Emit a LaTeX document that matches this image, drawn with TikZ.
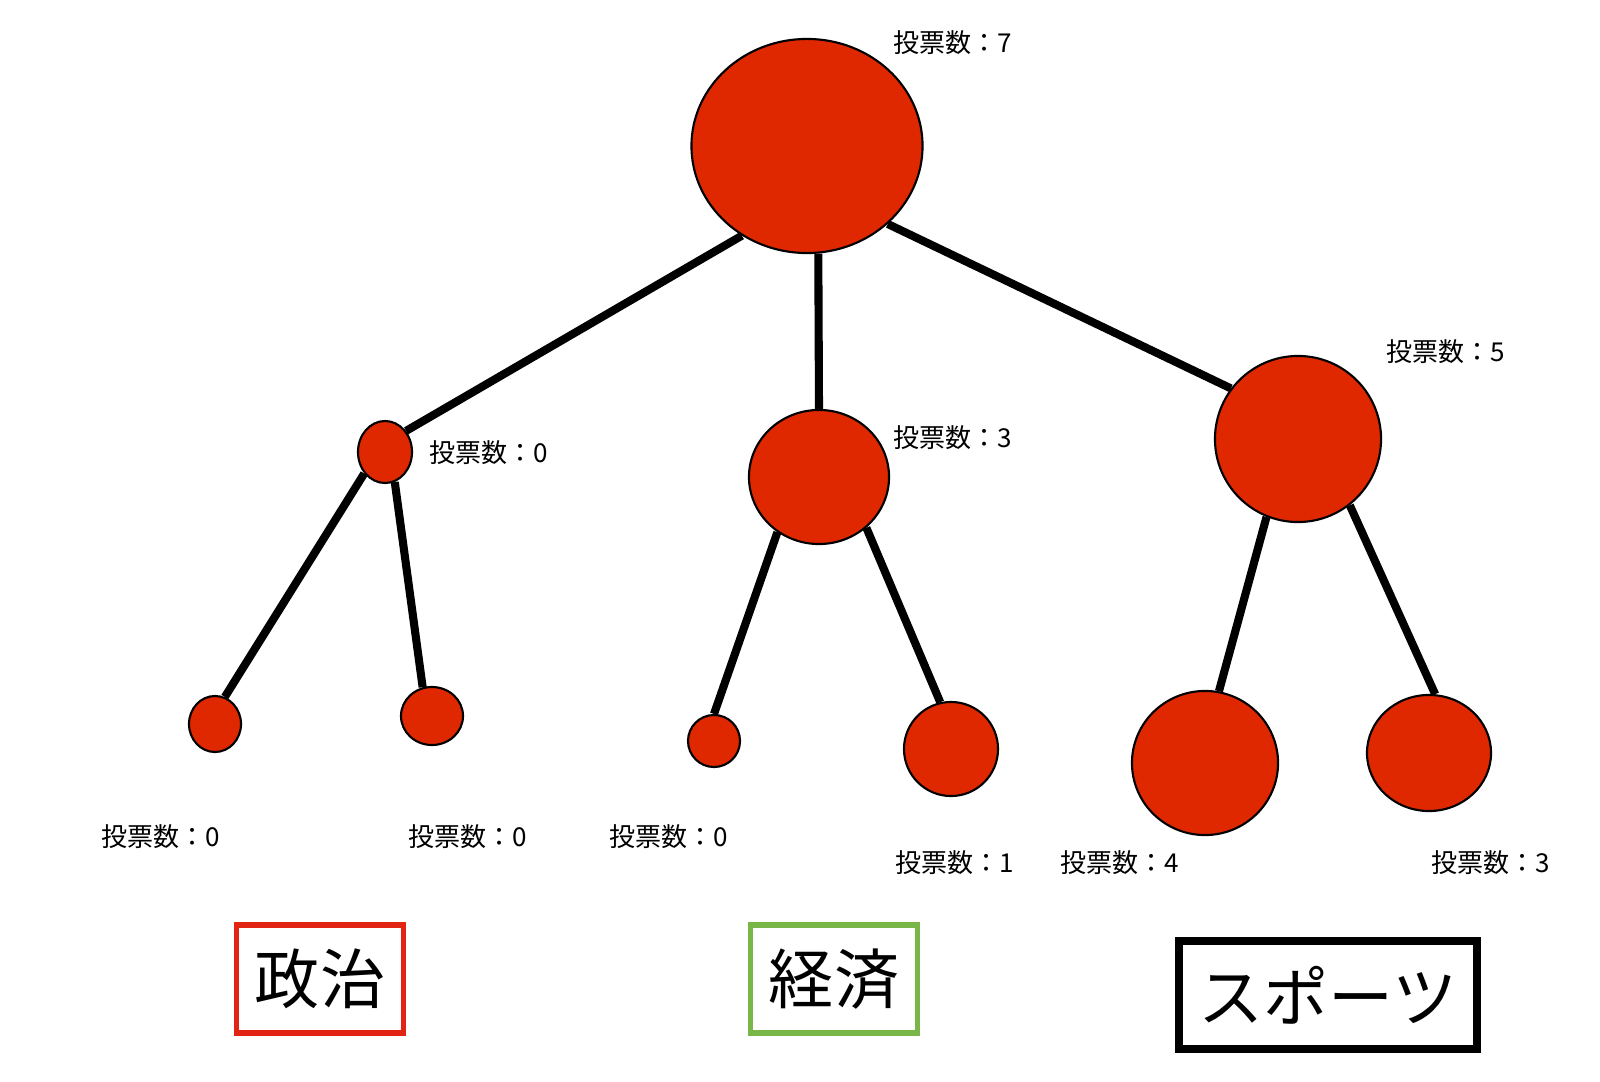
\documentclass[tikz,border=0pt]{standalone}
\usepackage{fontspec}
\newfontfamily\jp{Noto Sans CJK JP}
\usetikzlibrary{shapes.geometric}
\definecolor{votered}{RGB}{224,40,0}
\definecolor{catred}{RGB}{226,36,20}
\definecolor{catgreen}{RGB}{120,182,72}
\begin{document}
\begin{tikzpicture}[x=0.01cm,y=-0.01cm,
  vote/.style={ellipse, draw=black, line width=0.6pt, fill=votered, inner sep=0pt},
  edge/.style={line width=2.3pt, draw=black},
  lbl/.style={anchor=west, inner sep=0pt, font=\jp\fontsize{7.4}{9}\selectfont},
  cat/.style={draw, fill=white, inner sep=0pt, minimum width=1.67cm, minimum height=1.08cm, font=\jp\fontsize{18.5}{20}\selectfont}]
\fill[white] (0,0) rectangle (1600,1082);
\useasboundingbox (0,0) rectangle (1600,1082);

% vote nodes
\node[vote, minimum width=2.31cm, minimum height=2.14cm] (root) at (807,146) {};
\node[vote, minimum width=0.54cm, minimum height=0.62cm] (L) at (385,452) {};
\node[vote, minimum width=1.40cm, minimum height=1.34cm] (M) at (819,477) {};
\node[vote, minimum width=1.66cm, minimum height=1.66cm] (R) at (1298,439) {};
\node[vote, minimum width=0.52cm, minimum height=0.56cm] (LL) at (215,724) {};
\node[vote, minimum width=0.62cm, minimum height=0.58cm] (LR) at (432,716) {};
\node[vote, minimum width=0.52cm, minimum height=0.52cm] (ML) at (714,741) {};
\node[vote, minimum width=0.94cm, minimum height=0.94cm] (MR) at (951,749) {};
\node[vote, minimum width=1.46cm, minimum height=1.44cm] (RL) at (1205,763) {};
\node[vote, minimum width=1.24cm, minimum height=1.16cm] (RR) at (1429,753) {};

% connectors
\draw[edge] (root.234.9) -- (L.45);
\draw[edge] (root.276.4) -- (M.90);
\draw[edge] (root.316) -- (R.143.4);
\draw[edge] (L.226.5) -- (LL.70);
\draw[edge] (L.288) -- (LR.108);
\draw[edge] (M.233.5) -- (ML.90);
\draw[edge] (M.313) -- (MR.103);
\draw[edge] (R.248.5) -- (RL.79.3);
\draw[edge] (R.308) -- (RR.84);

% labels
\node[lbl] (troot) at (893,43) {投票数：7};
\node[lbl] (tL) at (429,453) {投票数：0};
\node[lbl] (tM) at (893,438) {投票数：3};
\node[lbl] (tR) at (1386,352) {投票数：5};
\node[lbl] (tLL) at (101,837) {投票数：0};
\node[lbl] (tLR) at (408,837) {投票数：0};
\node[lbl] (tML) at (609,837) {投票数：0};
\node[lbl] (tMR) at (895,863) {投票数：1};
\node[lbl] (tRL) at (1060,863) {投票数：4};
\node[lbl] (tRR) at (1431,863) {投票数：3};

% categories
\node[cat, draw=catred, line width=1.6pt] (seiji) at (320,979) {政治};
\node[cat, draw=catgreen, line width=1.6pt] (keizai) at (834,979) {経済};
\node[cat, draw=black, line width=2.1pt, minimum width=2.98cm] (sports) at (1328,995) {スポーツ};
\end{tikzpicture}
\end{document}
